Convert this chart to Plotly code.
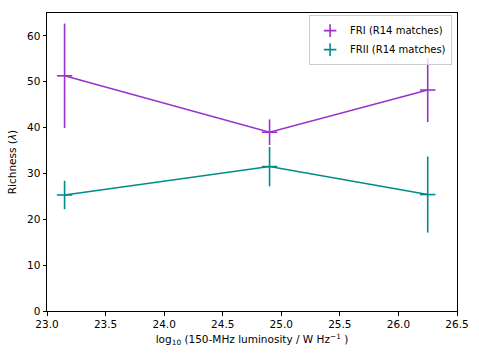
import plotly.graph_objects as go

luminosity = [23.15, 24.9, 26.25]
fri_richness = [51.3, 39.0, 48.2]
fri_err = [11.4, 2.8, 7.0]
frii_richness = [25.3, 31.5, 25.4]
frii_err = [3.1, 4.3, 8.3]

x_ticks = [23.0, 23.5, 24.0, 24.5, 25.0, 25.5, 26.0, 26.5]
y_ticks = [0, 10, 20, 30, 40, 50, 60]

c_fri = "#9932CC"
c_frii = "#008B8B"

fig = go.Figure()
for name, y, e, c in [("FRI (R14 matches)", fri_richness, fri_err, c_fri),
                      ("FRII (R14 matches)", frii_richness, frii_err, c_frii)]:
    fig.add_trace(go.Scatter(
        x=luminosity, y=y, mode="lines+markers", showlegend=False,
        line=dict(color=c, width=1.6),
        marker=dict(symbol="line-ew", size=11, line=dict(color=c, width=1.6)),
        error_y=dict(type="data", array=e, color=c, thickness=1.6, width=0),
    ))
    fig.add_trace(go.Scatter(
        x=[None], y=[None], mode="markers", name=name,
        marker=dict(symbol="cross-thin", size=9, line=dict(color=c, width=1.6)),
    ))

fig.update_layout(
    width=479, height=360,
    margin=dict(l=47, r=22, t=13, b=49),
    paper_bgcolor="white", plot_bgcolor="white",
    font=dict(family="DejaVu Sans", size=10.5, color="black"),
    legend=dict(x=0.988, y=0.993, xanchor="right", yanchor="top",
                bordercolor="#cccccc", borderwidth=1, bgcolor="rgba(255,255,255,0.8)",
                font=dict(size=10), itemwidth=30, tracegroupgap=0),
)
fig.update_xaxes(range=[23.0, 26.5], tickvals=x_ticks, automargin=False,
                 ticktext=[f"{v:.1f}" for v in x_ticks],
                 showline=True, linecolor="black", linewidth=1, mirror=True,
                 ticks="outside", ticklen=3.5, tickcolor="black", showgrid=False, zeroline=False,
                 title=dict(text="log<sub>10</sub> (150-MHz luminosity / W Hz<sup>−1</sup> )",
                            standoff=6, font=dict(size=10.5)))
fig.update_yaxes(range=[0, 65], tickvals=y_ticks, automargin=False,
                 showline=True, linecolor="black", linewidth=1, mirror=True,
                 ticks="outside", ticklen=3.5, tickcolor="black", showgrid=False, zeroline=False,
                 title=dict(text="Richness (<i>λ</i>)", standoff=8, font=dict(size=10.5)))

fig.write_html("out.html", config={"displayModeBar": False},
               post_script="document.body.style.margin='0';document.body.style.overflow='hidden';")
